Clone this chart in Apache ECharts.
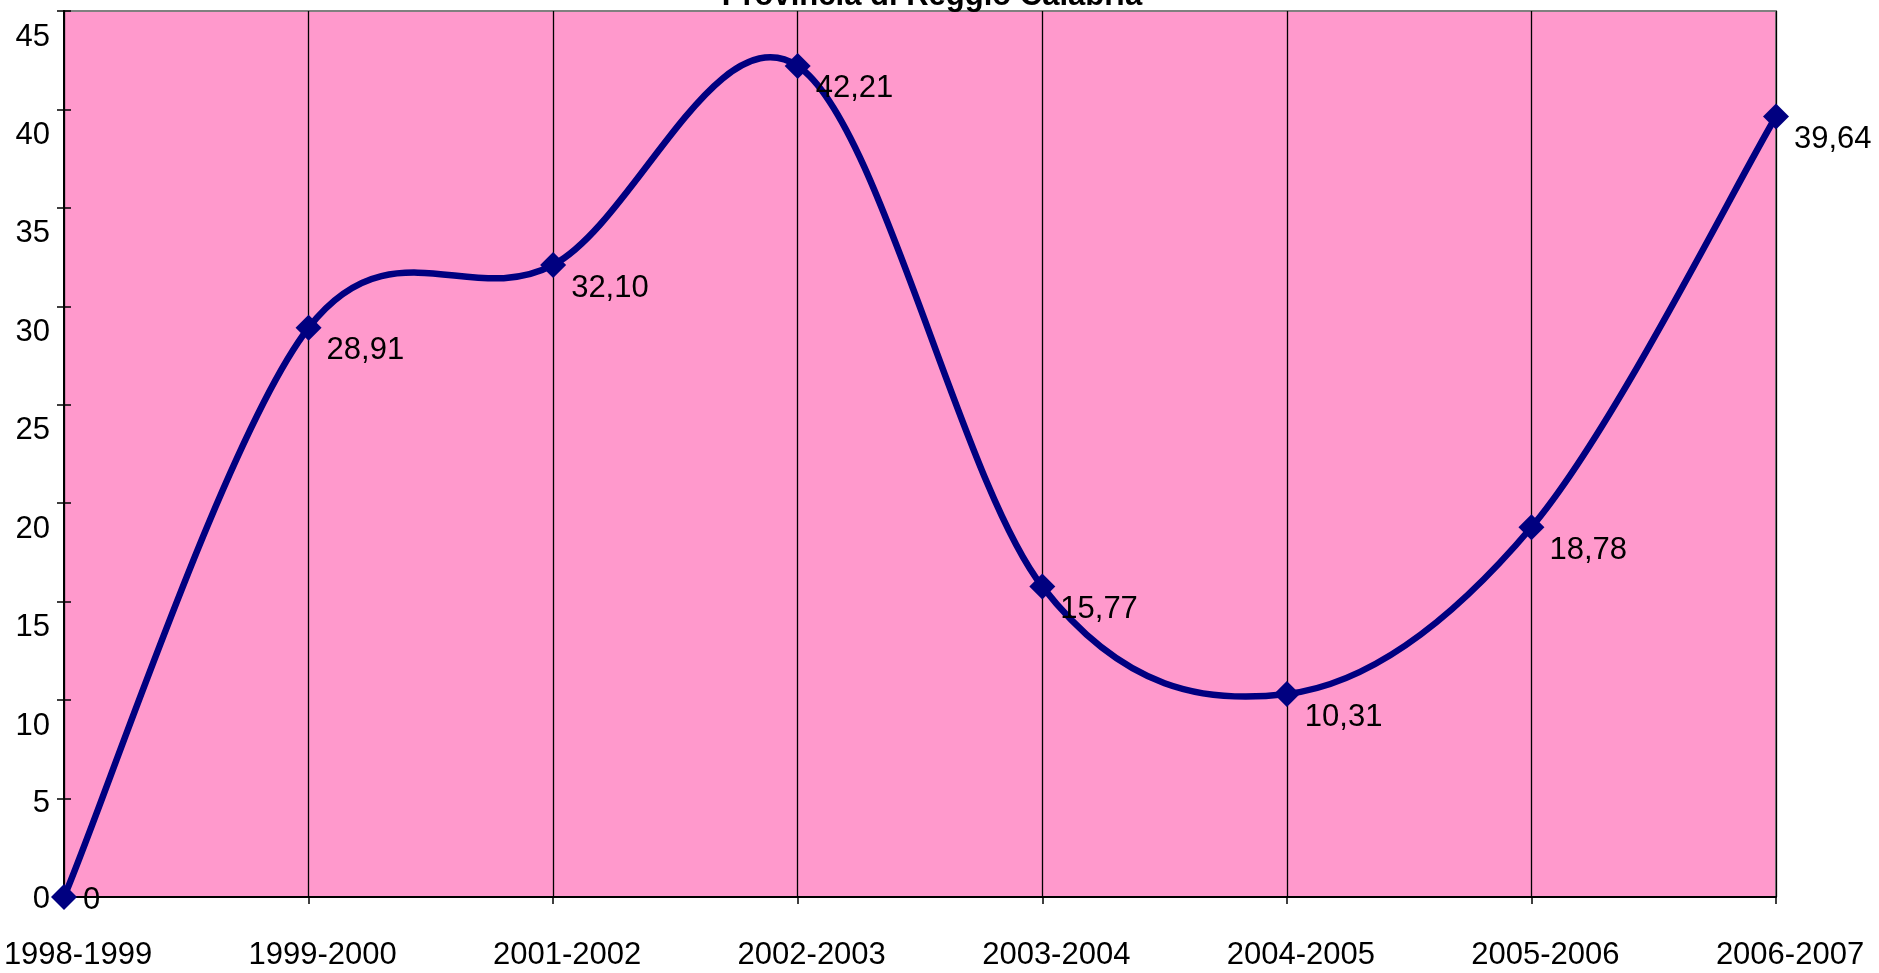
<!DOCTYPE html>
<html>
<head>
<meta charset="utf-8">
<script src="https://cdn.jsdelivr.net/npm/echarts@6/dist/echarts.min.js"></script>
<style>
html,body{margin:0;padding:0;background:#fff;}
#c{width:1879px;height:973px;}
</style>
</head>
<body>
<div id="c"></div>
<script>
const titleText = 'Provincia di Reggio Calabria';
const categories = ['1998-1999','1999-2000','2001-2002','2002-2003','2003-2004','2004-2005','2005-2006','2006-2007'];
const values = [0, 28.91, 32.10, 42.21, 15.77, 10.31, 18.78, 39.64];
const yTicks = [0, 5, 10, 15, 20, 25, 30, 35, 40, 45];

const FONT = '"Liberation Sans", Arial, sans-serif';
const chart = echarts.init(document.getElementById('c'), null, {renderer: 'canvas'});

function fmtVal(v) {
  if (v === 0) return '0';
  return v.toFixed(2).replace('.', ',');
}

// Excel-like smoothed line: Catmull-Rom style Bezier through the points, in pixel space
function renderSmooth(params, api) {
  if (params.dataIndex !== 0) return null;
  const pts = values.map(function (v, i) { return api.coord([i, v]); });
  const n = pts.length;
  const children = [];
  const f = 1 / 6;
  for (let i = 0; i < n - 1; i++) {
    const p0 = pts[Math.max(i - 1, 0)];
    const p1 = pts[i];
    const p2 = pts[i + 1];
    const p3 = pts[Math.min(i + 2, n - 1)];
    children.push({
      type: 'bezierCurve',
      shape: {
        x1: p1[0], y1: p1[1],
        cpx1: p1[0] + (p2[0] - p0[0]) * f, cpy1: p1[1] + (p2[1] - p0[1]) * f,
        cpx2: p2[0] - (p3[0] - p1[0]) * f, cpy2: p2[1] - (p3[1] - p1[1]) * f,
        x2: p2[0], y2: p2[1]
      },
      style: {stroke: '#000080', lineWidth: 6.5, fill: null, lineCap: 'round', lineJoin: 'round'}
    });
  }
  return {type: 'group', children: children};
}

const pointData = values.map(function (v) {
  return v === 0 ? {value: v, label: {offset: [6, 3]}} : {value: v};
});

chart.setOption({
  animation: false,
  backgroundColor: '#ffffff',
  title: {
    text: titleText,
    left: 927,
    textAlign: 'center',
    top: -24,
    textStyle: {fontFamily: FONT, fontWeight: 'bold', fontSize: 31, color: '#000', lineHeight: 31}
  },
  grid: {
    left: 64, right: 103, top: 11, bottom: 76,
    containLabel: false,
    outerBoundsMode: 'none',
    show: true, backgroundColor: '#FF99CC', borderColor: '#808080', borderWidth: 2
  },
  xAxis: {
    type: 'category',
    data: categories,
    boundaryGap: false,
    axisLine: {show: true, lineStyle: {color: '#000', width: 2}},
    axisTick: {show: true, inside: false, length: 7, interval: 0, lineStyle: {color: '#000', width: 1.5}},
    splitLine: {show: true, interval: 0, lineStyle: {color: '#000', width: 1.3}},
    axisLabel: {
      interval: 0, margin: 43, fontFamily: FONT, fontSize: 31, color: '#000', lineHeight: 31,
      padding: [0, 0, 0, 28], hideOverlap: false
    }
  },
  yAxis: [{
    type: 'value',
    min: 0, max: 45, interval: 5,
    position: 'left',
    axisLine: {show: true, lineStyle: {color: '#000', width: 2}},
    axisTick: {show: true, inside: false, length: 7, lineStyle: {color: '#000', width: 1.5}},
    splitLine: {show: false},
    axisLabel: {
      margin: 14, fontFamily: FONT, fontSize: 31, color: '#000',
      formatter: function (v) { return v >= 10 ? '{a|' + v + '}' : (v === 5 ? '{b|' + v + '}' : '{c|' + v + '}'); },
      rich: {
        a: {fontFamily: FONT, fontSize: 31, color: '#000', padding: [52, 0, 0, 0]},
        b: {fontFamily: FONT, fontSize: 31, color: '#000', padding: [10, 0, 0, 0]},
        c: {fontFamily: FONT, fontSize: 31, color: '#000', padding: [4, 0, 0, 0]}
      }
    }
  }, {
    type: 'value',
    min: 0, max: 45, interval: 5,
    position: 'left',
    axisLine: {show: false},
    axisTick: {show: true, inside: true, length: 7, lineStyle: {color: '#000', width: 1.5}},
    splitLine: {show: false},
    axisLabel: {show: false}
  }],
  series: [{
    type: 'custom',
    renderItem: renderSmooth,
    data: values.map(function (v, i) { return [i, v]; }),
    encode: {x: 0, y: 1},
    silent: true,
    z: 3
  }, {
    type: 'line',
    data: pointData,
    symbol: 'diamond',
    symbolSize: 26,
    itemStyle: {color: '#000080'},
    lineStyle: {width: 0, opacity: 0},
    label: {
      show: true,
      position: 'right',
      distance: 0,
      offset: [5, 23],
      fontFamily: FONT, fontSize: 31, color: '#000',
      formatter: function (p) { return fmtVal(p.value); }
    },
    z: 5
  }]
});
</script>
</body>
</html>
